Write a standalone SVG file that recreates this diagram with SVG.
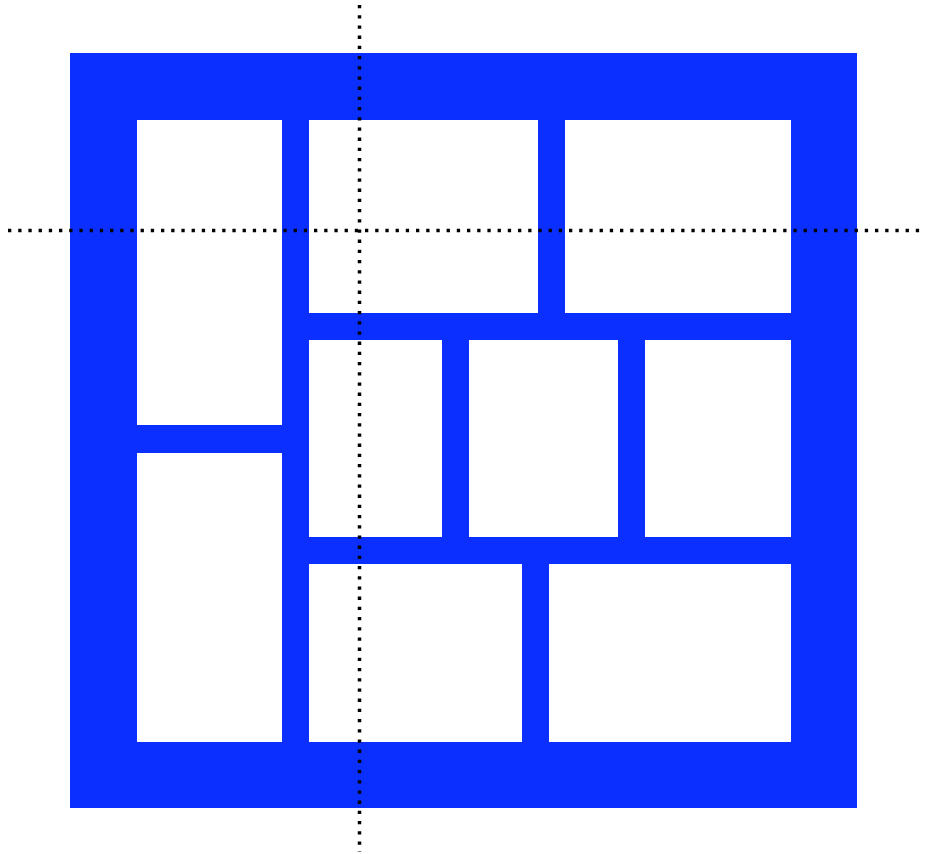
<svg xmlns="http://www.w3.org/2000/svg" width="929" height="854" viewBox="0 0 929 854">
<style>
.wall{fill:#0b2fff}
.room{fill:#ffffff}
.axis{stroke:#000;stroke-width:3.5;stroke-dasharray:3.3 6.9;fill:none}
</style>
<rect width="929" height="854" fill="#fff"/>
<g id="walls">
<rect class="wall" x="70" y="53" width="787" height="755"/>
</g>
<g id="rooms">
<rect id="roomA" class="room" x="137" y="120" width="145" height="305"/>
<rect id="roomB" class="room" x="137" y="453" width="145" height="289"/>
<rect id="roomC" class="room" x="309" y="120" width="229" height="193"/>
<rect id="roomD" class="room" x="565" y="120" width="226" height="193"/>
<rect id="roomE" class="room" x="309" y="340" width="133" height="197"/>
<rect id="roomF" class="room" x="469" y="340" width="149" height="197"/>
<rect id="roomG" class="room" x="645" y="340" width="146" height="197"/>
<rect id="roomH" class="room" x="309" y="564" width="213" height="178"/>
<rect id="roomI" class="room" x="549" y="564" width="242" height="178"/>
</g>
<g id="axes">
<line class="axis" x1="359.5" y1="5" x2="359.5" y2="852"/>
<line class="axis" x1="8" y1="230.5" x2="926" y2="230.5"/>
</g>
</svg>
